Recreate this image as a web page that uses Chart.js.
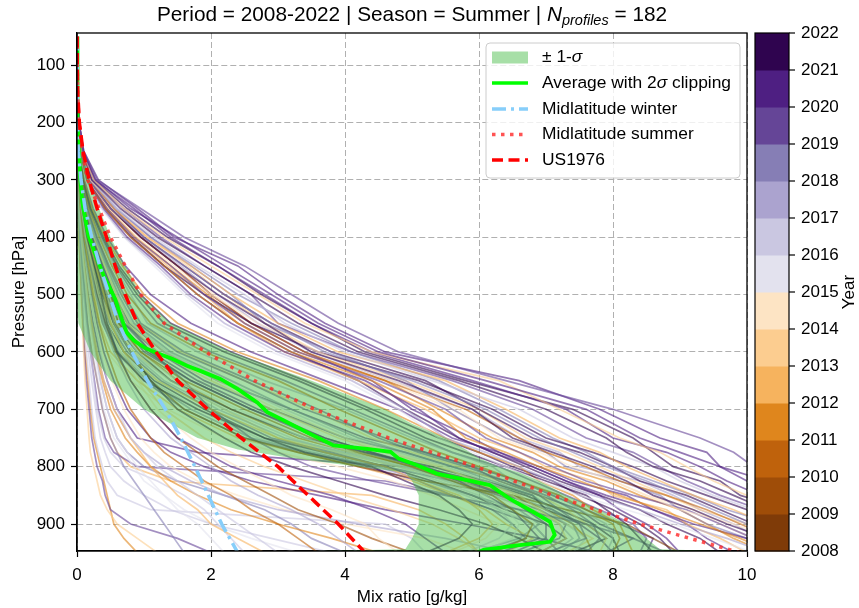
<!DOCTYPE html>
<html>
<head>
<meta charset="utf-8">
<script src="https://cdn.jsdelivr.net/npm/chart.js@4.4.1/dist/chart.umd.min.js"></script>
<style>
  html, body { margin: 0; padding: 0; background: #fff; }
  canvas { display: block; }
</style>
</head>
<body>
<canvas id="chart" width="859" height="608"></canvas>
<script>
// axis ticks
const xTicks = [0, 2, 4, 6, 8, 10];
const yTicks = [100, 200, 300, 400, 500, 600, 700, 800, 900];

// colorbar years and colours (PuOr, 2008 -> 2022)
const cbYears = [2008, 2009, 2010, 2011, 2012, 2013, 2014, 2015, 2016, 2017, 2018, 2019, 2020, 2021, 2022];
const cbColors = ["#7f3b08", "#9f4d08", "#bf620c", "#df861d", "#f6b35e", "#fccd90", "#fde4c4",
                  "#e3e2ee", "#cac7e1", "#aba3cf", "#867eb5", "#654597", "#4e1f82", "#2f044f"];

// profile pressure levels (hPa)
const profileLevels = [950, 925, 900, 875, 850, 825, 800, 775, 750, 700, 650, 600, 550, 500, 450, 400, 350, 300, 250, 200, 150];

// year of each profile
const profileYears = [
  2019, 2020, 2013, 2021, 2016, 2012, 2018, 2022, 2014, 2019, 2011, 2020, 2017, 2015, 2021, 2010, 2020, 2018,
  2021, 2010, 2019, 2018, 2013, 2020, 2009, 2016, 2012, 2022, 2017, 2011, 2019, 2014, 2020, 2015,
  2014, 2017, 2010, 2016, 2020, 2015, 2013, 2018, 2021, 2012, 2008, 2019, 2016, 2009,
  2020, 2021, 2019, 2018, 2022, 2013, 2012, 2020, 2017, 2011, 2021, 2014,
  2019, 2016, 2020, 2013, 2022,
  2015, 2017, 2011, 2016, 2020, 2014, 2018,
  2021, 2019, 2020, 2018, 2022, 2012, 2017, 2014, 2021, 2010, 2020, 2019, 2013, 2016,
  2019, 2012, 2020, 2016,
  2013, 2019, 2011
];

// mixing ratio of each profile at profileLevels (g/kg)
const profiles = [
  [13.0, 12.6, 12.2, 11.7, 11.1, 10.6, 10.1, 9.8, 9.3, 8.0, 6.4, 4.8, 3.9, 3.2, 2.5, 1.6, 0.95, 0.3, 0.1, 0.03, 0.01],
  [12.4, 12.0, 11.5, 11.0, 10.5, 10.0, 9.6, 9.0, 8.4, 7.6, 6.1, 4.5, 3.6, 2.9, 2.2, 1.5, 0.8, 0.28, 0.09, 0.03, 0.01],
  [12.0, 11.6, 11.2, 10.7, 10.0, 9.5, 9.1, 8.7, 8.1, 7.2, 6.3, 4.4, 3.4, 2.7, 2.0, 1.3, 0.7, 0.25, 0.08, 0.025, 0.01],
  [11.8, 11.3, 10.9, 10.3, 9.8, 9.3, 8.6, 8.2, 7.9, 7.0, 5.7, 4.2, 3.3, 2.6, 1.9, 1.2, 0.65, 0.22, 0.08, 0.025, 0.01],
  [11.4, 11.0, 10.6, 10.1, 9.5, 9.0, 8.6, 8.0, 7.4, 6.6, 5.3, 4.0, 3.1, 2.5, 1.8, 1.15, 0.6, 0.2, 0.07, 0.02, 0.008],
  [11.2, 10.8, 10.3, 9.8, 9.2, 8.7, 8.2, 7.8, 7.2, 6.4, 5.5, 3.9, 3.0, 2.3, 1.7, 1.05, 0.55, 0.2, 0.07, 0.02, 0.008],
  [10.9, 10.5, 10.0, 9.5, 9.0, 8.5, 7.9, 7.4, 6.9, 6.1, 5.0, 3.7, 2.9, 2.2, 1.6, 1.0, 0.5, 0.18, 0.06, 0.02, 0.008],
  [10.7, 10.3, 9.7, 9.2, 8.6, 8.2, 7.7, 7.1, 6.5, 5.9, 4.8, 3.5, 2.8, 2.1, 1.5, 0.95, 0.5, 0.18, 0.06, 0.02, 0.008],
  [11.0, 10.4, 9.8, 9.0, 8.5, 8.0, 7.4, 6.9, 6.3, 5.7, 4.7, 3.6, 2.7, 2.0, 1.45, 0.9, 0.48, 0.17, 0.06, 0.02, 0.008],
  [10.5, 10.1, 9.6, 9.1, 8.3, 7.6, 7.1, 6.6, 6.1, 5.5, 4.5, 3.3, 2.5, 1.9, 1.4, 0.85, 0.45, 0.16, 0.055, 0.018, 0.007],
  [10.4, 9.9, 9.3, 8.7, 8.1, 7.5, 6.9, 6.4, 5.8, 5.3, 4.4, 3.2, 2.4, 1.8, 1.3, 0.8, 0.42, 0.15, 0.05, 0.017, 0.007],
  [10.6, 10.0, 9.2, 8.6, 7.9, 7.3, 6.8, 6.2, 5.7, 5.1, 4.3, 3.1, 2.3, 1.7, 1.25, 0.75, 0.4, 0.15, 0.05, 0.016, 0.007],
  [10.3, 9.7, 9.0, 8.4, 7.7, 7.1, 6.6, 6.1, 5.5, 4.9, 4.1, 3.0, 2.2, 1.65, 1.2, 0.72, 0.38, 0.14, 0.05, 0.016, 0.007],
  [10.1, 9.5, 8.9, 8.2, 7.5, 6.9, 6.4, 5.9, 5.4, 4.8, 4.0, 2.9, 2.1, 1.6, 1.15, 0.7, 0.36, 0.13, 0.045, 0.015, 0.006],
  [11.6, 11.1, 10.6, 10.0, 9.4, 8.8, 8.3, 7.7, 7.0, 6.2, 5.1, 3.6, 2.6, 1.9, 1.3, 0.8, 0.42, 0.15, 0.05, 0.016, 0.007],
  [10.8, 10.4, 9.9, 9.4, 8.8, 8.1, 7.6, 7.0, 6.6, 5.8, 4.6, 3.4, 2.6, 2.0, 1.5, 0.95, 0.5, 0.17, 0.06, 0.02, 0.008],
  [12.2, 11.8, 11.3, 10.9, 10.2, 9.7, 9.3, 8.8, 8.0, 7.3, 5.9, 4.4, 3.5, 2.8, 2.1, 1.4, 0.85, 0.27, 0.09, 0.03, 0.01],
  [11.3, 10.8, 10.4, 9.7, 9.2, 8.6, 8.0, 7.6, 7.1, 6.3, 5.4, 4.1, 3.2, 2.4, 1.75, 1.1, 0.6, 0.2, 0.07, 0.02, 0.008],
  [8.6, 8.4, 8.2, 7.9, 7.6, 7.0, 6.4, 5.8, 5.2, 4.3, 3.3, 2.2, 1.3, 0.9, 0.6, 0.38, 0.2, 0.09, 0.035, 0.012, 0.005],
  [8.0, 8.1, 8.0, 7.6, 7.2, 6.6, 6.0, 5.4, 4.9, 3.9, 3.0, 1.9, 1.1, 0.75, 0.52, 0.33, 0.18, 0.08, 0.03, 0.01, 0.005],
  [7.6, 7.8, 7.7, 7.4, 7.0, 6.4, 5.8, 5.1, 4.5, 3.6, 2.6, 1.6, 0.95, 0.7, 0.48, 0.3, 0.16, 0.07, 0.03, 0.01, 0.005],
  [7.2, 7.5, 7.4, 7.1, 6.8, 6.2, 5.6, 4.9, 4.2, 3.2, 2.3, 1.4, 0.85, 0.62, 0.44, 0.27, 0.14, 0.065, 0.025, 0.009, 0.005],
  [6.9, 7.3, 7.2, 6.9, 6.6, 6.0, 5.4, 4.6, 3.9, 2.9, 2.0, 1.2, 0.75, 0.58, 0.41, 0.25, 0.13, 0.06, 0.025, 0.009, 0.005],
  [6.5, 7.0, 7.0, 6.7, 6.4, 5.8, 5.2, 4.4, 3.7, 2.7, 1.8, 1.1, 0.7, 0.55, 0.38, 0.23, 0.12, 0.055, 0.022, 0.008, 0.004],
  [6.2, 6.7, 6.8, 6.5, 6.2, 5.6, 5.0, 4.2, 3.5, 2.5, 1.6, 0.95, 0.62, 0.5, 0.35, 0.21, 0.11, 0.05, 0.02, 0.008, 0.004],
  [5.8, 6.3, 6.5, 6.3, 6.0, 5.4, 4.8, 3.9, 3.2, 2.2, 1.4, 0.8, 0.55, 0.45, 0.32, 0.19, 0.1, 0.045, 0.018, 0.007, 0.004],
  [5.5, 6.0, 6.2, 6.0, 5.7, 5.1, 4.6, 3.7, 3.0, 2.0, 1.2, 0.7, 0.5, 0.4, 0.28, 0.17, 0.09, 0.04, 0.016, 0.006, 0.004],
  [5.2, 5.7, 5.9, 5.7, 5.4, 4.9, 4.4, 3.4, 2.8, 1.8, 1.0, 0.6, 0.45, 0.36, 0.26, 0.15, 0.08, 0.035, 0.014, 0.006, 0.004],
  [7.9, 8.0, 7.9, 7.5, 7.2, 6.5, 6.2, 5.6, 5.0, 4.0, 2.8, 1.8, 1.05, 0.8, 0.55, 0.35, 0.19, 0.085, 0.032, 0.011, 0.005],
  [8.3, 8.2, 8.1, 7.7, 7.4, 6.9, 6.6, 6.0, 5.5, 4.6, 3.6, 2.4, 1.5, 1.0, 0.68, 0.42, 0.22, 0.1, 0.038, 0.013, 0.005],
  [7.0, 7.6, 7.5, 7.2, 6.9, 6.3, 5.9, 5.2, 4.6, 3.4, 2.5, 1.5, 0.9, 0.66, 0.46, 0.29, 0.15, 0.068, 0.027, 0.01, 0.005],
  [6.8, 7.1, 7.1, 6.8, 6.5, 5.9, 5.5, 4.7, 4.0, 3.0, 2.1, 1.3, 0.8, 0.6, 0.42, 0.26, 0.14, 0.062, 0.025, 0.009, 0.005],
  [9.0, 8.8, 8.5, 8.1, 7.8, 7.3, 6.8, 6.3, 5.6, 4.8, 3.7, 2.6, 1.7, 1.1, 0.72, 0.45, 0.24, 0.11, 0.04, 0.014, 0.006],
  [6.0, 6.5, 6.6, 6.4, 6.1, 5.5, 4.9, 4.1, 3.4, 2.4, 1.5, 0.9, 0.6, 0.48, 0.34, 0.2, 0.1, 0.048, 0.019, 0.007, 0.004],
  [4.8, 4.5, 4.3, 3.8, 3.2, 2.8, 2.4, 2.0, 1.7, 1.2, 0.9, 0.65, 0.45, 0.32, 0.22, 0.13, 0.07, 0.035, 0.015, 0.006, 0.004],
  [4.2, 3.9, 3.6, 3.2, 2.7, 2.3, 2.0, 1.7, 1.4, 1.0, 0.75, 0.55, 0.4, 0.28, 0.2, 0.12, 0.06, 0.03, 0.012, 0.005, 0.004],
  [3.6, 3.3, 3.0, 2.6, 2.3, 1.9, 1.6, 1.3, 1.1, 0.8, 0.6, 0.45, 0.33, 0.24, 0.17, 0.1, 0.05, 0.025, 0.01, 0.005, 0.004],
  [3.0, 2.7, 2.4, 2.1, 1.8, 1.5, 1.2, 1.0, 0.8, 0.6, 0.45, 0.35, 0.27, 0.2, 0.14, 0.08, 0.04, 0.02, 0.01, 0.005, 0.004],
  [5.5, 5.2, 4.9, 4.4, 3.8, 3.0, 2.3, 1.9, 1.5, 1.1, 0.8, 0.6, 0.42, 0.3, 0.2, 0.12, 0.06, 0.03, 0.012, 0.005, 0.004],
  [2.2, 2.0, 1.8, 1.5, 1.3, 1.1, 0.9, 0.75, 0.6, 0.45, 0.35, 0.27, 0.2, 0.15, 0.1, 0.06, 0.03, 0.015, 0.008, 0.004, 0.003],
  [6.0, 5.7, 5.3, 4.7, 4.0, 3.4, 2.8, 2.3, 1.9, 1.3, 0.95, 0.7, 0.5, 0.35, 0.24, 0.14, 0.07, 0.035, 0.015, 0.006, 0.004],
  [1.6, 1.45, 1.3, 1.15, 1.0, 0.85, 0.7, 0.6, 0.5, 0.38, 0.3, 0.22, 0.16, 0.12, 0.08, 0.05, 0.03, 0.015, 0.008, 0.004, 0.003],
  [7.0, 6.6, 6.1, 5.4, 4.6, 3.9, 3.2, 2.6, 2.2, 1.5, 1.1, 0.8, 0.55, 0.38, 0.26, 0.15, 0.08, 0.04, 0.015, 0.006, 0.004],
  [2.8, 2.4, 2.0, 1.8, 1.5, 1.3, 1.1, 0.95, 0.8, 0.55, 0.4, 0.3, 0.22, 0.16, 0.11, 0.07, 0.035, 0.018, 0.008, 0.004, 0.003],
  [9.0, 8.6, 8.2, 7.3, 6.5, 5.2, 4.2, 3.3, 2.5, 1.6, 1.1, 0.8, 0.55, 0.4, 0.28, 0.17, 0.09, 0.045, 0.018, 0.007, 0.004],
  [8.8, 8.3, 7.6, 6.6, 5.5, 4.4, 3.5, 3.0, 2.6, 2.0, 1.6, 1.1, 0.75, 0.5, 0.35, 0.22, 0.12, 0.06, 0.022, 0.008, 0.004],
  [3.8, 2.9, 2.0, 1.4, 1.0, 0.7, 0.5, 0.42, 0.35, 0.28, 0.22, 0.17, 0.13, 0.1, 0.07, 0.045, 0.025, 0.013, 0.007, 0.004, 0.003],
  [5.0, 4.4, 3.9, 3.3, 2.9, 2.5, 2.1, 1.8, 1.5, 1.1, 0.8, 0.58, 0.42, 0.3, 0.21, 0.12, 0.06, 0.03, 0.012, 0.005, 0.004],
  [12.8, 12.1, 11.8, 11.0, 10.7, 10.3, 9.6, 9.4, 8.7, 7.8, 6.6, 4.6, 3.7, 3.0, 2.4, 1.45, 0.9, 0.32, 0.1, 0.03, 0.01],
  [11.9, 11.5, 11.0, 10.6, 9.9, 9.6, 8.9, 8.6, 8.3, 7.4, 5.8, 4.3, 3.5, 2.75, 2.1, 1.35, 0.75, 0.25, 0.09, 0.03, 0.01],
  [11.5, 10.9, 10.7, 10.2, 9.6, 9.1, 8.7, 8.3, 7.6, 6.8, 5.6, 4.1, 3.0, 2.6, 1.9, 1.25, 0.7, 0.22, 0.08, 0.025, 0.01],
  [10.2, 10.0, 9.4, 9.0, 8.7, 8.1, 7.3, 7.0, 6.4, 5.6, 4.9, 3.8, 2.8, 2.3, 1.7, 1.1, 0.58, 0.2, 0.07, 0.02, 0.008],
  [11.1, 10.6, 10.1, 9.6, 9.1, 8.4, 8.0, 7.5, 6.8, 6.0, 5.2, 3.8, 2.9, 2.2, 1.6, 1.0, 0.55, 0.2, 0.07, 0.02, 0.008],
  [10.9, 10.6, 10.0, 9.3, 8.8, 8.3, 7.8, 7.3, 6.7, 6.0, 4.9, 3.6, 2.8, 2.2, 1.65, 1.05, 0.55, 0.19, 0.065, 0.02, 0.008],
  [10.0, 9.6, 9.1, 8.8, 8.0, 7.7, 7.0, 6.6, 6.0, 5.2, 4.2, 3.1, 2.4, 1.9, 1.35, 0.85, 0.45, 0.16, 0.055, 0.018, 0.007],
  [9.8, 9.4, 9.1, 8.6, 8.2, 7.4, 6.9, 6.3, 5.9, 5.0, 4.4, 3.4, 2.6, 2.0, 1.5, 0.95, 0.5, 0.17, 0.06, 0.02, 0.008],
  [10.6, 10.2, 9.8, 9.3, 8.9, 8.4, 7.5, 7.2, 6.6, 5.9, 4.7, 3.5, 2.7, 2.1, 1.55, 0.98, 0.52, 0.18, 0.06, 0.02, 0.008],
  [10.3, 9.8, 9.4, 9.0, 8.4, 7.9, 7.2, 6.8, 6.2, 5.4, 4.6, 3.3, 2.5, 1.95, 1.4, 0.88, 0.46, 0.16, 0.055, 0.018, 0.007],
  [9.6, 9.3, 8.8, 8.4, 7.8, 7.2, 6.7, 6.2, 5.7, 4.9, 4.2, 3.2, 2.4, 1.8, 1.3, 0.82, 0.43, 0.15, 0.05, 0.017, 0.007],
  [10.4, 10.1, 9.6, 9.2, 8.5, 8.0, 7.6, 7.0, 6.4, 5.6, 4.6, 3.4, 2.6, 2.05, 1.5, 0.95, 0.5, 0.17, 0.06, 0.02, 0.008],
  [8.4, 8.5, 8.3, 7.8, 7.3, 6.8, 6.3, 5.6, 5.1, 4.1, 3.1, 2.0, 1.2, 0.85, 0.58, 0.36, 0.19, 0.085, 0.033, 0.011, 0.005],
  [7.4, 7.6, 7.3, 7.0, 6.6, 6.1, 5.5, 4.8, 4.1, 3.1, 2.2, 1.35, 0.82, 0.6, 0.43, 0.26, 0.14, 0.063, 0.025, 0.009, 0.005],
  [6.3, 6.9, 6.7, 6.5, 6.1, 5.7, 5.1, 4.3, 3.6, 2.6, 1.7, 1.0, 0.66, 0.52, 0.36, 0.22, 0.11, 0.052, 0.021, 0.008, 0.004],
  [7.8, 7.9, 7.6, 7.3, 6.9, 6.3, 5.7, 5.0, 4.4, 3.5, 2.5, 1.55, 0.92, 0.68, 0.47, 0.3, 0.16, 0.07, 0.028, 0.01, 0.005],
  [8.9, 8.7, 8.4, 8.0, 7.5, 7.1, 6.5, 6.0, 5.4, 4.4, 3.4, 2.3, 1.4, 0.95, 0.63, 0.4, 0.21, 0.095, 0.036, 0.012, 0.005],
  [3.3, 2.6, 2.0, 1.6, 1.3, 1.0, 0.85, 0.7, 0.55, 0.4, 0.32, 0.25, 0.19, 0.14, 0.1, 0.06, 0.03, 0.015, 0.008, 0.004, 0.003],
  [6.5, 5.5, 4.2, 3.0, 2.2, 1.7, 1.3, 1.0, 0.8, 0.55, 0.4, 0.3, 0.22, 0.16, 0.11, 0.07, 0.035, 0.018, 0.008, 0.004, 0.003],
  [4.5, 3.8, 3.0, 2.3, 1.8, 1.4, 1.1, 0.9, 0.72, 0.5, 0.38, 0.28, 0.2, 0.15, 0.1, 0.06, 0.03, 0.015, 0.008, 0.004, 0.003],
  [2.5, 2.3, 2.1, 1.9, 1.6, 1.2, 0.7, 0.5, 0.4, 0.3, 0.25, 0.2, 0.15, 0.11, 0.08, 0.05, 0.025, 0.013, 0.007, 0.004, 0.003],
  [7.8, 6.9, 5.8, 4.6, 3.6, 2.6, 1.9, 1.4, 1.1, 0.75, 0.55, 0.4, 0.3, 0.22, 0.15, 0.09, 0.045, 0.022, 0.01, 0.005, 0.003],
  [5.8, 5.2, 4.0, 3.1, 2.4, 1.8, 1.4, 1.15, 0.95, 0.7, 0.52, 0.38, 0.27, 0.19, 0.13, 0.08, 0.04, 0.02, 0.009, 0.004, 0.003],
  [4.0, 3.5, 3.2, 2.8, 2.2, 1.5, 1.0, 0.75, 0.6, 0.45, 0.35, 0.28, 0.21, 0.15, 0.1, 0.06, 0.03, 0.015, 0.008, 0.004, 0.003],
  [7.4, 7.9, 7.6, 7.0, 6.8, 6.1, 5.3, 4.3, 3.4, 2.3, 1.4, 0.9, 0.55, 0.42, 0.3, 0.19, 0.1, 0.05, 0.02, 0.008, 0.004],
  [6.6, 7.2, 7.3, 6.9, 6.3, 5.6, 4.6, 3.8, 2.9, 2.0, 1.25, 0.75, 0.48, 0.36, 0.26, 0.16, 0.08, 0.04, 0.016, 0.006, 0.004],
  [7.9, 8.3, 7.8, 7.5, 6.9, 6.4, 5.6, 4.9, 4.0, 2.9, 1.9, 1.2, 0.7, 0.5, 0.36, 0.22, 0.12, 0.055, 0.022, 0.008, 0.004],
  [5.9, 6.6, 6.9, 6.6, 5.9, 5.2, 4.5, 3.5, 2.6, 1.7, 1.05, 0.62, 0.4, 0.3, 0.22, 0.14, 0.07, 0.035, 0.014, 0.006, 0.003],
  [8.1, 8.0, 7.7, 7.2, 6.7, 6.0, 5.1, 4.4, 3.7, 2.6, 1.7, 1.05, 0.62, 0.45, 0.32, 0.2, 0.1, 0.05, 0.02, 0.008, 0.004],
  [6.4, 6.8, 6.4, 6.1, 5.6, 5.0, 4.2, 3.3, 2.4, 1.5, 0.9, 0.5, 0.34, 0.26, 0.19, 0.12, 0.06, 0.03, 0.012, 0.005, 0.003],
  [7.1, 7.4, 7.2, 6.8, 6.2, 5.5, 4.9, 4.0, 3.1, 2.1, 1.3, 0.8, 0.5, 0.38, 0.27, 0.17, 0.09, 0.045, 0.018, 0.007, 0.004],
  [5.6, 6.1, 6.3, 5.8, 5.3, 4.7, 3.9, 3.0, 2.2, 1.35, 0.8, 0.45, 0.3, 0.23, 0.17, 0.1, 0.05, 0.025, 0.011, 0.005, 0.003],
  [6.9, 7.3, 7.0, 6.4, 5.9, 5.3, 4.6, 3.7, 2.8, 1.9, 1.15, 0.7, 0.44, 0.33, 0.24, 0.15, 0.08, 0.04, 0.016, 0.006, 0.004],
  [7.7, 7.6, 7.4, 7.0, 6.5, 5.8, 5.0, 4.1, 3.3, 2.3, 1.5, 0.95, 0.58, 0.43, 0.31, 0.19, 0.1, 0.05, 0.02, 0.008, 0.004],
  [8.5, 8.6, 8.1, 7.6, 7.1, 6.6, 5.9, 5.2, 4.3, 3.2, 2.1, 1.3, 0.78, 0.55, 0.39, 0.24, 0.13, 0.06, 0.024, 0.009, 0.004],
  [6.1, 6.7, 6.5, 6.2, 5.6, 5.1, 4.3, 3.4, 2.5, 1.6, 1.0, 0.58, 0.38, 0.28, 0.2, 0.13, 0.065, 0.032, 0.013, 0.005, 0.003],
  [7.3, 7.7, 7.3, 6.8, 6.3, 5.7, 4.8, 3.9, 3.0, 2.2, 1.4, 0.85, 0.52, 0.4, 0.28, 0.18, 0.09, 0.045, 0.018, 0.007, 0.004],
  [6.7, 7.0, 6.8, 6.3, 5.8, 5.2, 4.4, 3.6, 2.7, 1.8, 1.1, 0.65, 0.42, 0.32, 0.23, 0.15, 0.075, 0.037, 0.015, 0.006, 0.003],
  [7.2, 7.0, 6.8, 6.2, 5.6, 4.6, 0.9, 0.55, 0.42, 0.32, 0.26, 0.2, 0.15, 0.11, 0.08, 0.05, 0.03, 0.015, 0.008, 0.004, 0.003],
  [6.0, 5.8, 5.5, 5.1, 4.4, 1.4, 0.8, 0.6, 0.5, 0.38, 0.3, 0.22, 0.16, 0.12, 0.08, 0.05, 0.03, 0.015, 0.008, 0.004, 0.003],
  [8.0, 7.8, 7.5, 7.1, 6.4, 5.7, 4.9, 1.8, 0.9, 0.6, 0.45, 0.33, 0.24, 0.17, 0.12, 0.07, 0.035, 0.018, 0.008, 0.004, 0.003],
  [5.2, 5.0, 4.6, 1.1, 0.6, 0.45, 0.38, 0.32, 0.27, 0.22, 0.18, 0.14, 0.1, 0.08, 0.06, 0.04, 0.02, 0.01, 0.006, 0.004, 0.003],
  [1.2, 0.9, 0.6, 0.45, 0.35, 0.3, 0.25, 0.2, 0.18, 0.15, 0.12, 0.1, 0.08, 0.06, 0.05, 0.03, 0.02, 0.01, 0.006, 0.004, 0.003],
  [2.0, 1.5, 0.8, 0.5, 0.42, 0.38, 0.3, 0.26, 0.22, 0.18, 0.14, 0.11, 0.09, 0.07, 0.05, 0.035, 0.02, 0.01, 0.006, 0.004, 0.003],
  [0.9, 0.7, 0.55, 0.5, 0.45, 0.4, 0.35, 0.3, 0.25, 0.2, 0.16, 0.12, 0.09, 0.07, 0.05, 0.03, 0.02, 0.01, 0.006, 0.004, 0.003]
];

// +/- 1 sigma band edges
const bandLevels = [950, 944, 925, 900, 875, 850, 825, 810, 800, 785, 770, 750, 725, 700, 650, 600, 550, 500, 450, 400, 350, 300, 250, 200, 150, 100, 50];
const bandLower = [2.1, 4.9, 5.0, 5.1, 5.1, 5.1, 5.0, 4.9, 4.2, 3.2, 2.4, 1.8, 1.4, 1.0, 0.5, 0.2, 0.02, 0, 0, 0, 0, 0, 0, 0, 0, 0, 0];
const bandUpper = [10.5, 8.7, 8.5, 8.2, 7.8, 7.3, 6.9, 6.6, 6.3, 6.0, 5.8, 5.5, 5.0, 4.6, 3.5, 2.3, 1.4, 0.95, 0.72, 0.5, 0.33, 0.18, 0.08, 0.02, 0.008, 0.004, 0.003];

// average with 2 sigma clipping
const meanLevels = [50, 100, 150, 200, 253, 300, 340, 397, 444, 473, 484, 508, 543, 566, 580, 592, 601, 612, 624, 633, 647, 664, 688, 705, 719, 740, 763, 769, 774, 786, 797, 812, 832, 856, 879, 896, 919, 931, 937, 945, 950];
const meanValues = [0.003, 0.004, 0.006, 0.012, 0.03, 0.05, 0.08, 0.17, 0.32, 0.42, 0.47, 0.57, 0.67, 0.74, 0.85, 1.0, 1.17, 1.42, 1.64, 1.84, 2.14, 2.39, 2.69, 2.84, 3.08, 3.43, 3.83, 4.33, 4.68, 4.8, 5.07, 5.37, 6.16, 6.46, 6.81, 7.06, 7.13, 7.06, 6.57, 6.07, 5.97];

// standard atmospheres
const stdLevels = [50, 100, 150, 200, 250, 300, 350, 400, 450, 500, 550, 600, 650, 700, 750, 800, 850, 900, 950];
const midlatWinter = [0.003, 0.003, 0.004, 0.006, 0.02, 0.06, 0.12, 0.22, 0.34, 0.48, 0.62, 0.82, 1.05, 1.32, 1.55, 1.76, 1.96, 2.16, 2.4];
const midlatSummer = [0.003, 0.004, 0.01, 0.03, 0.08, 0.16, 0.33, 0.5, 0.72, 0.95, 1.3, 1.92, 2.65, 3.55, 4.65, 5.95, 7.1, 8.4, 9.9];
const us1976 = [0.003, 0.004, 0.012, 0.035, 0.09, 0.18, 0.3, 0.44, 0.57, 0.72, 0.9, 1.18, 1.5, 1.95, 2.45, 3.0, 3.45, 3.9, 4.3];

const FONT = '"Liberation Sans", Arial, Helvetica, sans-serif';
const BAND_COLOR = "rgba(60, 185, 60, 0.45)";

function yearColor(year) {
  const i = Math.min(Math.max(year - cbYears[0], 0), cbColors.length - 1);
  return cbColors[i];
}
function withAlpha(hex, a) {
  const r = parseInt(hex.slice(1, 3), 16), g = parseInt(hex.slice(3, 5), 16), b = parseInt(hex.slice(5, 7), 16);
  return `rgba(${r}, ${g}, ${b}, ${a})`;
}
function pairs(levels, values) {
  return values.map((v, k) => ({ x: v, y: levels[k] }));
}

const datasets = [];
profiles.forEach((vals, i) => {
  datasets.push({
    data: pairs(profileLevels, vals),
    borderColor: withAlpha(yearColor(profileYears[i]), 0.6),
    borderWidth: 1.7,
    pointRadius: 0,
    order: 10,
  });
});
const meanIndex = datasets.length;
datasets.push({ data: pairs(meanLevels, meanValues), borderColor: "#00ff00", borderWidth: 3.8, pointRadius: 0, order: 4 });
datasets.push({ data: pairs(stdLevels, midlatWinter), borderColor: "#87cefa", borderWidth: 3.5, borderDash: [14, 5, 3, 5], pointRadius: 0, order: 3 });
datasets.push({ data: pairs(stdLevels, midlatSummer), borderColor: "rgba(255, 40, 40, 0.8)", borderWidth: 3.5, borderDash: [3.5, 5.5], pointRadius: 0, order: 2 });
datasets.push({ data: pairs(stdLevels, us1976), borderColor: "#ff0000", borderWidth: 3.5, borderDash: [11, 5.5], pointRadius: 0, order: 1 });

// sigma band, drawn just before the average line (above the profiles)
const bandPlugin = {
  id: "band",
  beforeDatasetDraw(chart, args) {
    if (args.index !== meanIndex) return;
    const { ctx, chartArea: a, scales: { x, y } } = chart;
    ctx.save();
    ctx.beginPath();
    ctx.rect(a.left, a.top, a.right - a.left, a.bottom - a.top);
    ctx.clip();
    ctx.beginPath();
    bandLevels.forEach((p, k) => {
      const px = x.getPixelForValue(bandLower[k]), py = y.getPixelForValue(p);
      if (k === 0) ctx.moveTo(px, py); else ctx.lineTo(px, py);
    });
    for (let k = bandLevels.length - 1; k >= 0; k--) {
      ctx.lineTo(x.getPixelForValue(bandUpper[k]), y.getPixelForValue(bandLevels[k]));
    }
    ctx.closePath();
    ctx.fillStyle = BAND_COLOR;
    ctx.fill();
    ctx.restore();
  }
};

function fontStr(size, italic) {
  return `${italic ? "italic " : ""}${size}px ${FONT}`;
}
// parts: [text, size, italic, dy]
function drawRich(ctx, parts, x, y, align) {
  let w = 0;
  parts.forEach(p => { ctx.font = fontStr(p[1], p[2]); w += ctx.measureText(p[0]).width; });
  let cx = align === "center" ? x - w / 2 : x;
  parts.forEach(p => {
    ctx.font = fontStr(p[1], p[2]);
    ctx.fillText(p[0], cx, y + (p[3] || 0));
    cx += ctx.measureText(p[0]).width;
  });
}

// frame, title, legend and colorbar
const decorPlugin = {
  id: "decor",
  afterDraw(chart) {
    const { ctx, chartArea: a } = chart;
    ctx.save();
    // frame
    ctx.strokeStyle = "#000";
    ctx.lineWidth = 1.3;
    ctx.strokeRect(a.left, a.top, a.right - a.left, a.bottom - a.top);

    // title
    ctx.fillStyle = "#000";
    ctx.textBaseline = "alphabetic";
    drawRich(ctx, [
      ["Period = 2008-2022 | Season = Summer | ", 20.8, false],
      ["N", 20.8, true],
      ["profiles", 14.5, true, 4],
      [" = 182", 20.8, false]
    ], (a.left + a.right) / 2, 21, "center");

    // legend
    const lx = 486, ly = 43, lw = 254, lh = 135;
    ctx.beginPath();
    ctx.roundRect(lx, ly, lw, lh, 4);
    ctx.fillStyle = "rgba(255,255,255,0.8)";
    ctx.fill();
    ctx.strokeStyle = "#cccccc";
    ctx.lineWidth = 1;
    ctx.stroke();
    const rows = [57.5, 83, 109, 134.5, 160];
    const hx0 = 492, hx1 = 528, tx = 542;
    ctx.fillStyle = BAND_COLOR;
    ctx.fillRect(hx0, rows[0] - 6, hx1 - hx0, 12);
    const handle = (y, color, dash) => {
      ctx.beginPath();
      ctx.setLineDash(dash);
      ctx.strokeStyle = color;
      ctx.lineWidth = 3.5;
      ctx.moveTo(hx0, y);
      ctx.lineTo(hx1, y);
      ctx.stroke();
      ctx.setLineDash([]);
    };
    handle(rows[1], "#00ff00", []);
    handle(rows[2], "#87cefa", [14, 5, 3, 5]);
    handle(rows[3], "rgba(255, 40, 40, 0.8)", [3.5, 5.5]);
    handle(rows[4], "#ff0000", [11, 5.5]);
    ctx.fillStyle = "#000";
    ctx.textBaseline = "middle";
    drawRich(ctx, [["\u00b1 1-", 17.4, false], ["\u03c3", 17.4, true]], tx, rows[0]);
    drawRich(ctx, [["Average with 2", 17.4, false], ["\u03c3", 17.4, true], [" clipping", 17.4, false]], tx, rows[1]);
    drawRich(ctx, [["Midlatitude winter", 17.4, false]], tx, rows[2]);
    drawRich(ctx, [["Midlatitude summer", 17.4, false]], tx, rows[3]);
    drawRich(ctx, [["US1976", 17.4, false]], tx, rows[4]);

    // colorbar
    const cx0 = 755, cx1 = 789, cy0 = a.top, cy1 = a.bottom;
    const n = cbColors.length;
    const bh = (cy1 - cy0) / n;
    cbColors.forEach((c, i) => {
      ctx.fillStyle = c;
      ctx.fillRect(cx0, cy1 - (i + 1) * bh, cx1 - cx0, bh + 0.5);
    });
    ctx.strokeStyle = "#000";
    ctx.lineWidth = 1.2;
    ctx.strokeRect(cx0, cy0, cx1 - cx0, cy1 - cy0);
    ctx.fillStyle = "#000";
    ctx.font = fontStr(17, false);
    ctx.textAlign = "left";
    ctx.textBaseline = "middle";
    cbYears.forEach((yr, i) => {
      const ty = cy1 - i * bh;
      ctx.beginPath();
      ctx.moveTo(cx1, ty);
      ctx.lineTo(cx1 + 6, ty);
      ctx.stroke();
      ctx.fillText(String(yr), cx1 + 12, ty);
    });
    ctx.translate(849, (cy0 + cy1) / 2);
    ctx.rotate(-Math.PI / 2);
    ctx.textAlign = "center";
    ctx.fillText("Year", 0, 0);
    ctx.restore();
  }
};

Chart.defaults.font.family = FONT;
Chart.defaults.font.size = 17;
Chart.defaults.color = "#000";

new Chart(document.getElementById("chart"), {
  type: "line",
  data: { datasets },
  options: {
    responsive: false,
    animation: false,
    events: [],
    layout: { padding: { left: 0, right: 112, top: 33, bottom: 0 } },
    plugins: { legend: { display: false }, title: { display: false }, tooltip: { enabled: false } },
    scales: {
      x: {
        type: "linear",
        min: 0,
        max: 10,
        afterBuildTicks: s => { s.ticks = xTicks.map(v => ({ value: v })); },
        afterFit: s => { s.height = 57; },
        ticks: { padding: 8, font: { size: 17 }, color: "#000" },
        grid: { color: "#b0b0b0", lineWidth: 1, tickLength: 6, tickColor: "#000", tickWidth: 1.2, tickBorderDash: [] },
        border: { display: true, color: "#000", width: 1.3, dash: [6, 3] },
        title: { display: true, text: "Mix ratio [g/kg]", font: { size: 17 }, color: "#000", padding: { top: 0, bottom: 0 } }
      },
      y: {
        type: "linear",
        reverse: true,
        min: 44,
        max: 947,
        afterBuildTicks: s => { s.ticks = yTicks.map(v => ({ value: v })); },
        afterFit: s => { s.width = 77; },
        ticks: { padding: 6, font: { size: 17 }, color: "#000" },
        grid: { color: "#b0b0b0", lineWidth: 1, tickLength: 6, tickColor: "#000", tickWidth: 1.2, tickBorderDash: [] },
        border: { display: true, color: "#000", width: 1.3, dash: [6, 3] },
        title: { display: true, text: "Pressure [hPa]", font: { size: 17 }, color: "#000", padding: { top: 9, bottom: 0 } }
      }
    }
  },
  plugins: [bandPlugin, decorPlugin]
});
</script>
</body>
</html>
